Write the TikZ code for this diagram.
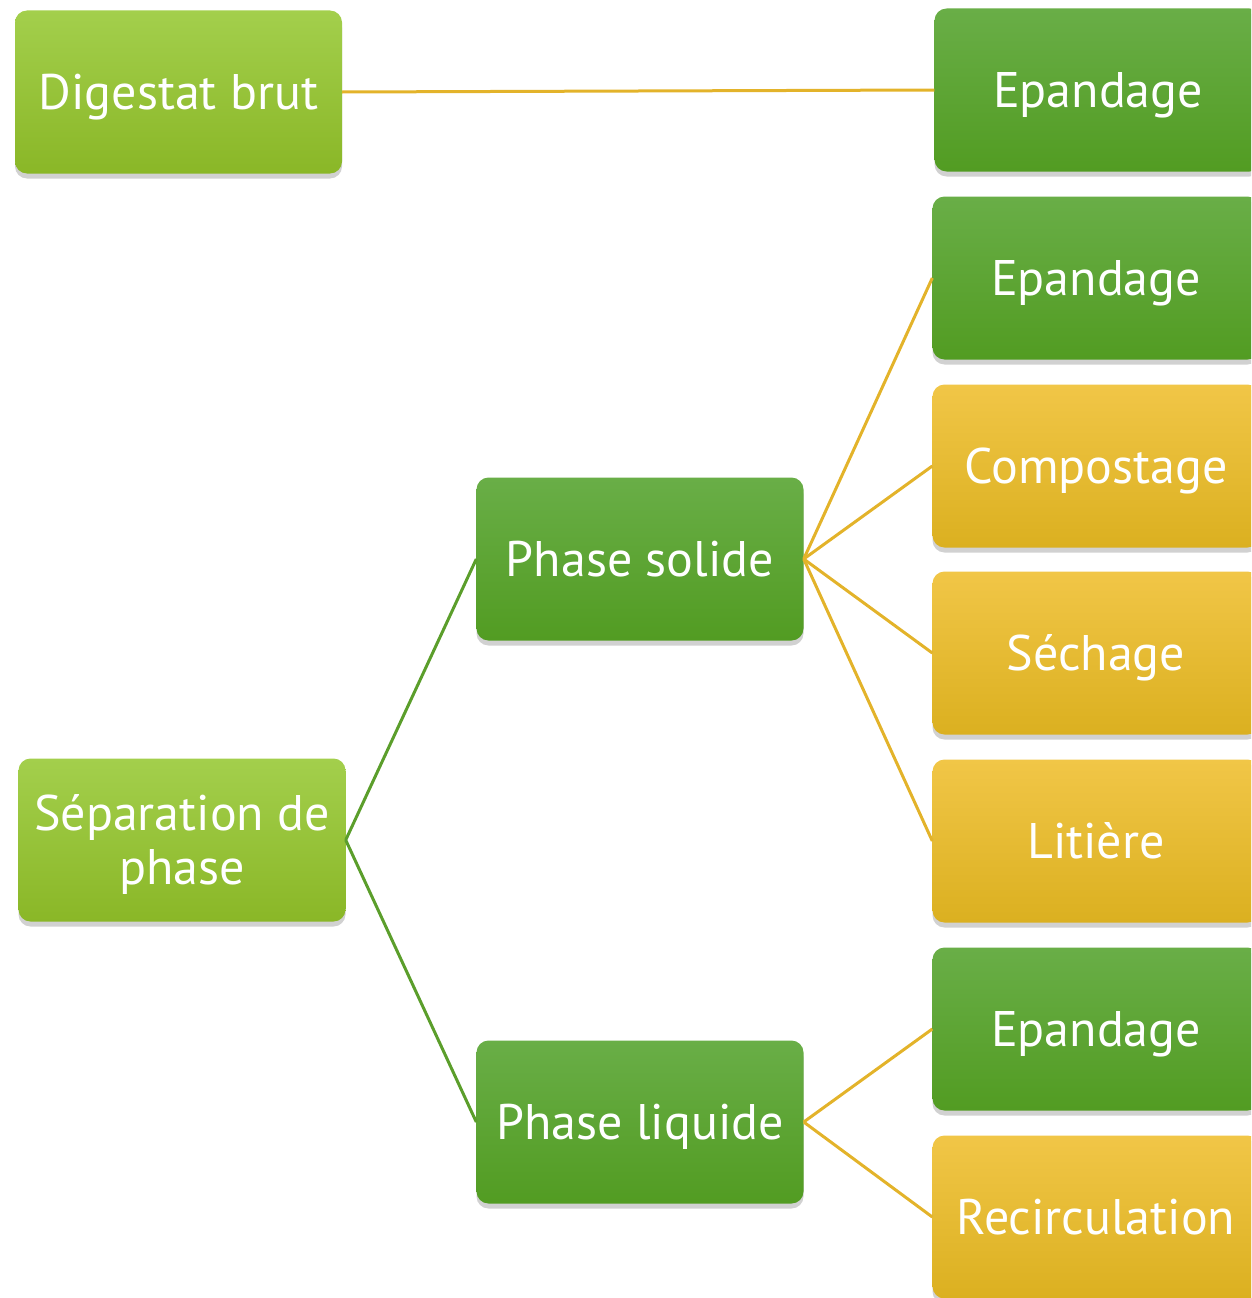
\documentclass[tikz,border=0pt]{standalone}
\usepackage{fontspec}
\setmainfont{PT Sans}
\usetikzlibrary{shadows}
\definecolor{lgT}{HTML}{A3CF4C}
\definecolor{lgB}{HTML}{8AB727}
\definecolor{dgT}{HTML}{69AE47}
\definecolor{dgB}{HTML}{529C22}
\definecolor{ylT}{HTML}{F1C647}
\definecolor{ylB}{HTML}{DBB020}
\definecolor{lnY}{HTML}{E3B32A}
\definecolor{lnG}{HTML}{5B9E2B}
\begin{document}
\begin{tikzpicture}[x=1pt,y=-1pt,
  box/.style={rounded corners=12pt, minimum width=327pt, minimum height=163pt,
    inner sep=0pt, text=white, font=\fontsize{50}{54}\selectfont,
    text height=35pt, text depth=0pt,
    drop shadow={shadow xshift=0pt, shadow yshift=-5pt, opacity=0.3, fill=black!60}},
  lg/.style={box, top color=lgT, bottom color=lgB},
  dg/.style={box, top color=dgT, bottom color=dgB},
  yl/.style={box, top color=ylT, bottom color=ylB},
  ylink/.style={draw=lnY, line width=3pt},
  glink/.style={draw=lnG, line width=3pt}
]
\useasboundingbox (0,0) rectangle (1251,1298);
\clip (0,0) rectangle (1251,1298);

\node[lg] (dig) at (178.5,92) {Digestat brut};
\node[lg, align=center, text height=89pt, text depth=0pt] (sep) at (182,840) {Séparation de\\phase};
\node[dg] (ps) at (640,559) {Phase solide};
\node[dg] (pl) at (640,1122) {Phase liquide};

\node[dg] (e1) at (1098,90) {Epandage};
\node[dg] (e2) at (1096,278) {Epandage};
\node[yl] (comp) at (1096,466) {Compostage};
\node[yl] (sech) at (1096,653) {Séchage};
\node[yl] (lit) at (1096,841) {Litière};
\node[dg] (e3) at (1096,1029) {Epandage};
\node[yl] (rec) at (1096,1217) {Recirculation};

\draw[ylink] (dig.east) -- (e1.west);
\draw[glink] (sep.east) -- (ps.west);
\draw[glink] (sep.east) -- (pl.west);
\draw[ylink] (ps.east) -- (e2.west);
\draw[ylink] (ps.east) -- (comp.west);
\draw[ylink] (ps.east) -- (sech.west);
\draw[ylink] (ps.east) -- (lit.west);
\draw[ylink] (pl.east) -- (e3.west);
\draw[ylink] (pl.east) -- (rec.west);
\end{tikzpicture}
\end{document}
